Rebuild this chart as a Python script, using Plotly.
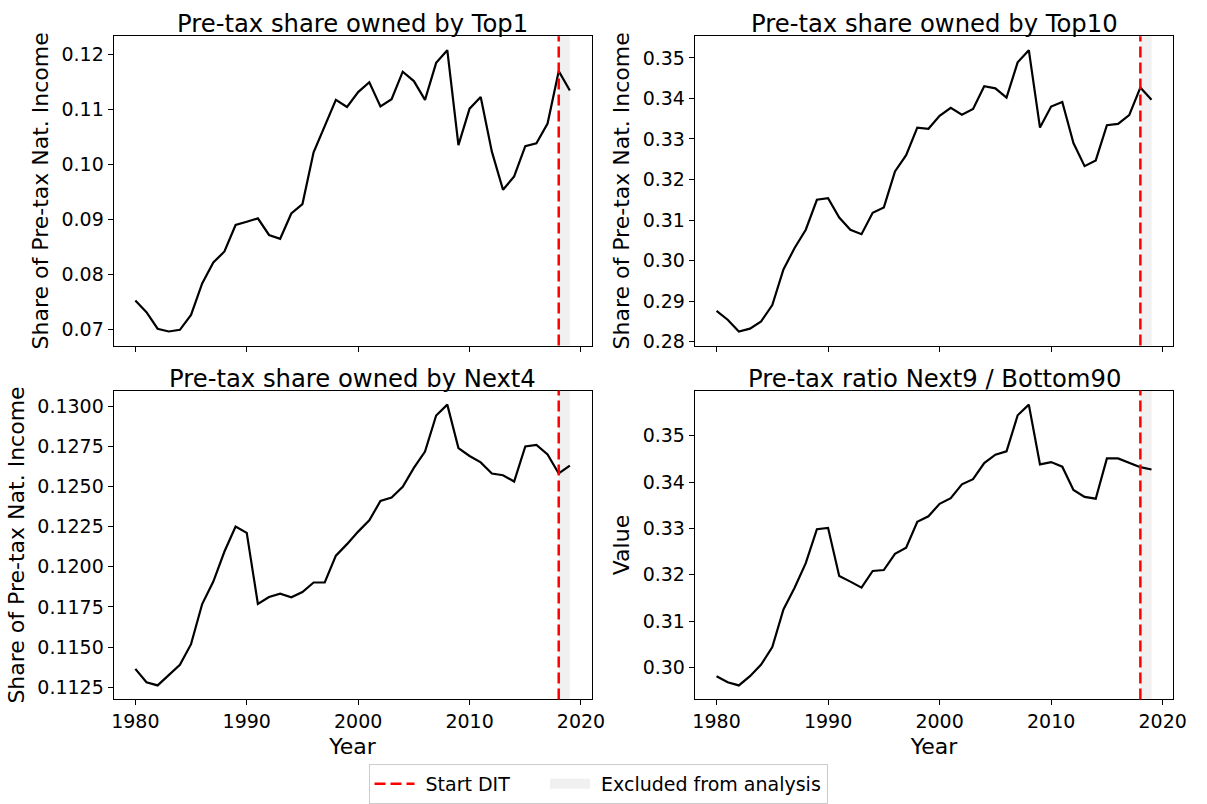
import plotly.graph_objects as go

years = list(range(1980, 2020))

top1 = [0.0753, 0.0732, 0.0702, 0.0697, 0.0700, 0.0727, 0.0784, 0.0822, 0.0842, 0.0890,
        0.0896, 0.0902, 0.0872, 0.0865, 0.0911, 0.0928, 0.1022, 0.1068, 0.1117, 0.1104,
        0.1131, 0.1149, 0.1105, 0.1118, 0.1168, 0.1151, 0.1117, 0.1184, 0.1207, 0.1035,
        0.1101, 0.1122, 0.1023, 0.0954, 0.0978, 0.1033, 0.1038, 0.1074, 0.1169, 0.1134]

top10 = [0.2876, 0.2854, 0.2825, 0.2832, 0.2850, 0.2890, 0.2978, 0.3031, 0.3076, 0.3150,
         0.3154, 0.3106, 0.3076, 0.3065, 0.3118, 0.3131, 0.3220, 0.3260, 0.3328, 0.3325,
         0.3357, 0.3377, 0.3360, 0.3374, 0.3430, 0.3425, 0.3402, 0.3489, 0.3519, 0.3328,
         0.3380, 0.3391, 0.3290, 0.3233, 0.3247, 0.3334, 0.3337, 0.3359, 0.3427, 0.3397]

next4 = [0.11364, 0.11281, 0.11261, 0.11324, 0.11390, 0.11518, 0.11768, 0.11908, 0.12095, 0.12250,
         0.12211, 0.11768, 0.11812, 0.11832, 0.11810, 0.11843, 0.11902, 0.11902, 0.12069, 0.12141,
         0.12219, 0.12289, 0.12410, 0.12431, 0.12498, 0.12616, 0.12718, 0.12942, 0.13010, 0.12739,
         0.12690, 0.12650, 0.12581, 0.12570, 0.12531, 0.12749, 0.12759, 0.12700, 0.12581, 0.12630]

ratio = [0.2981, 0.2968, 0.2961, 0.2981, 0.3006, 0.3044, 0.3125, 0.3172, 0.3225, 0.3298,
         0.3301, 0.3197, 0.3185, 0.3172, 0.3208, 0.3210, 0.3245, 0.3258, 0.3314, 0.3326,
         0.3353, 0.3365, 0.3395, 0.3406, 0.3441, 0.3459, 0.3466, 0.3544, 0.3567, 0.3438,
         0.3443, 0.3433, 0.3383, 0.3368, 0.3364, 0.3451, 0.3451, 0.3441, 0.3432, 0.3427]

titles = ["Pre-tax share owned by Top1", "Pre-tax share owned by Top10",
          "Pre-tax share owned by Next4", "Pre-tax ratio Next9 / Bottom90"]
ylabels = ["Share of Pre-tax Nat. Income", "Share of Pre-tax Nat. Income",
           "Share of Pre-tax Nat. Income", "Value"]
series = [top1, top10, next4, ratio]
dticks = [0.01, 0.01, 0.0025, 0.01]
tfmts = [".2f", ".2f", ".4f", ".2f"]
dit_year = 2018
excl_start, excl_end = 2018, 2019

W, H = 1207, 804
FONT = "DejaVu Sans"
TICK = 19
LABEL = 22
TITLE = 24.3
DASH = "11px,5px"
NBSP = "\u00a0"
# panel boxes in pixels (left, right, top, bottom)
boxes = [(113, 597, 36.5, 349), (701.5, 1186, 36.5, 349),
         (113, 597, 394.5, 706.5), (701.5, 1186, 394.5, 706.5)]

fig = go.Figure()
xmin, xmax = min(years), max(years)
xpad = 0.05 * (xmax - xmin)

for i, (vals, box) in enumerate(zip(series, boxes)):
    n = i + 1
    xa = "x" if n == 1 else f"x{n}"
    ya = "y" if n == 1 else f"y{n}"
    l, r, t, b = box
    fig.add_trace(go.Scatter(x=years, y=vals, mode="lines",
                             line=dict(color="black", width=2.2),
                             xaxis=xa, yaxis=ya, showlegend=False, hoverinfo="skip"))
    ymn, ymx = min(vals), max(vals)
    ypad = 0.05 * (ymx - ymn)
    bottom_row = i >= 2
    xaxis = dict(domain=[l / W, r / W], anchor=ya, range=[xmin - xpad, xmax + xpad],
                 tickmode="linear", tick0=1980, dtick=10, ticks="outside", ticklen=5,
                 tickwidth=1, tickcolor="black", showticklabels=bottom_row,
                 showline=True, linecolor="black", linewidth=1, mirror=True,
                 showgrid=False, zeroline=False,
                 tickfont=dict(family=FONT, size=TICK, color="black"))
    if bottom_row:
        xaxis["title"] = dict(text="Year", font=dict(family=FONT, size=LABEL, color="black"),
                              standoff=7)
    yaxis = dict(domain=[1 - b / H, 1 - t / H], anchor=xa, range=[ymn - ypad, ymx + ypad],
                 tickmode="linear", tick0=0, dtick=dticks[i], tickformat=tfmts[i],
                 ticks="outside", ticklen=5, tickwidth=1, tickcolor="black",
                 showline=True, linecolor="black", linewidth=1, mirror=True,
                 showgrid=False, zeroline=False,
                 tickfont=dict(family=FONT, size=TICK, color="black"),
                 title=dict(text=ylabels[i], font=dict(family=FONT, size=LABEL, color="black"),
                            standoff=6))
    key = "" if n == 1 else str(n)
    fig.layout["xaxis" + key] = xaxis
    fig.layout["yaxis" + key] = yaxis

    fig.add_shape(type="rect", xref=xa, yref=f"{ya} domain", x0=excl_start, x1=excl_end,
                  y0=0, y1=1, fillcolor="#f0f0f0", line=dict(width=0), layer="below")
    fig.add_shape(type="line", xref=xa, yref=f"{ya} domain", x0=dit_year, x1=dit_year,
                  y0=0, y1=1, line=dict(color="red", width=2.5, dash=DASH))
    fig.add_annotation(text=titles[i], xref="paper", yref="paper",
                       x=(l + r) / 2 / W, y=1 - t / H, xanchor="center", yanchor="bottom",
                       yshift=-4, showarrow=False,
                       font=dict(family=FONT, size=TITLE, color="black"))

# legend entries
fig.add_trace(go.Scatter(x=[None], y=[None], mode="lines",
                         name=NBSP + "Start DIT" + NBSP * 5,
                         line=dict(color="red", width=2.5, dash=DASH)))
fig.add_trace(go.Scatter(x=[None], y=[None], mode="lines",
                         name=NBSP + "Excluded from analysis",
                         line=dict(color="#f0f0f0", width=13)))

fig.update_layout(
    width=W, height=H, autosize=False,
    margin=dict(l=0, r=0, t=0, b=0),
    paper_bgcolor="white", plot_bgcolor="white",
    font=dict(family=FONT, size=TICK, color="black"),
    legend=dict(orientation="h", x=0.5, xanchor="center", y=1 - 792 / H, yanchor="middle",
                bordercolor="#cccccc", borderwidth=1, bgcolor="white",
                font=dict(family=FONT, size=19, color="black"), itemwidth=40,
                tracegroupgap=0),
)

fig.write_html("out.html")
